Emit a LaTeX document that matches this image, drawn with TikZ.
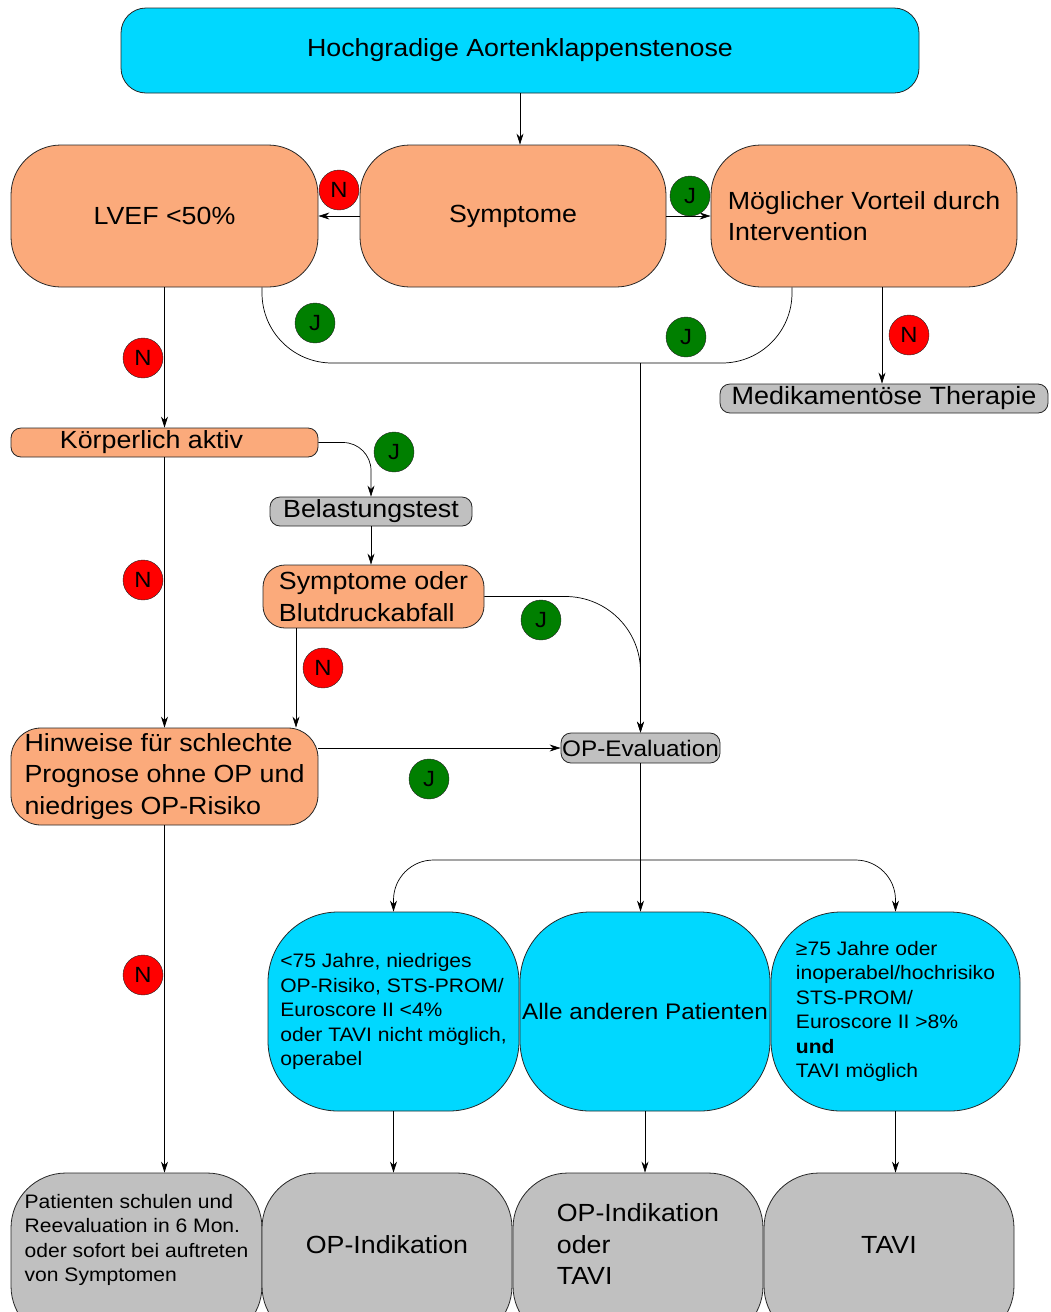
\documentclass[tikz,border=0pt]{standalone}
\usepackage{fontspec}
\setmainfont{Liberation Sans}[FakeStretch=1.08]
\usetikzlibrary{arrows.meta,positioning}

\definecolor{aocyan}{HTML}{00D8FF}
\definecolor{aoorange}{HTML}{FBAA7B}
\definecolor{aogray}{HTML}{C0C0C0}
\definecolor{aogreen}{HTML}{007F00}
\definecolor{aored}{HTML}{FF0000}

\tikzset{
	block/.style={draw=black!85,line width=0.8pt,inner sep=0pt,align=left},
	bigtext/.style={font=\fontsize{24.8}{31.5}\selectfont},
	smalltext/.style={font=\fontsize{19.5}{24.5}\selectfont},
	arr/.style={line width=0.7pt,-{Stealth[length=11pt,width=7pt]}},
	nomark/.style={circle,draw=black!85,fill=aored,minimum size=40pt,inner sep=0pt,font=\fontsize{22}{22}\selectfont},
	yesmark/.style={nomark,fill=aogreen},
}
% lift text in the cut-off boxes
\newcommand{\liftup}[2]{\raisebox{0pt}[\height][\dimexpr\depth+#1\relax]{#2}}

\begin{document}
\begin{tikzpicture}[x=1pt,y=-1pt]
\path[use as bounding box,clip] (0,0) rectangle (1050,1312);

%top row
\node[block,bigtext,fill=aocyan,rounded corners=25,minimum width=798,minimum height=85] (aks) at (520,50.5) {Hochgradige Aortenklappenstenose};
\node[block,bigtext,fill=aoorange,rounded corners=50,minimum width=307,minimum height=142] (lvef) at (164.5,216) {LVEF <50\%};
\node[block,bigtext,fill=aoorange,rounded corners=50,minimum width=306,minimum height=142] (symp) at (513,216) {Symptome};
\node[block,bigtext,fill=aoorange,rounded corners=50,minimum width=306,minimum height=142] (vorteil) at (864,216) {Möglicher Vorteil durch\\Intervention};
\node[block,font=\fontsize{25}{25}\selectfont,fill=aogray,rounded corners=10,minimum width=328,minimum height=29] (medi) at (884,398.5) {Medikamentöse Therapie};

%left branch
\node[block,bigtext,fill=aoorange,rounded corners=10,minimum width=307,minimum height=29] (aktiv) at (164.5,442.5) {Körperlich aktiv\hspace{26pt}};
\node[block,bigtext,fill=aogray,rounded corners=10,minimum width=202,minimum height=29] (belast) at (371,511.5) {Belastungstest};
\node[block,bigtext,fill=aoorange,rounded corners=22,minimum width=221,minimum height=63] (abfall) at (373.5,596.5) {Symptome oder\\Blutdruckabfall};
\node[block,bigtext,fill=aoorange,rounded corners=30,minimum width=307,minimum height=97] (prog) at (164.5,776.5) {Hinweise für schlechte\\Prognose ohne OP und\\niedriges OP-Risiko};
\node[block,font=\fontsize{22.5}{22.5}\selectfont,fill=aogray,rounded corners=10,minimum width=159,minimum height=30] (opeval) at (640.5,748) {OP-Evaluation};

%patient groups
\node[block,smalltext,fill=aocyan,rounded corners=70,minimum width=251,minimum height=199] (jung) at (393.5,1011.5) {<75 Jahre, niedriges\\OP-Risiko, STS-PROM/\\Euroscore II <4\%\\oder TAVI nicht möglich,\\operabel};
\node[block,font=\fontsize{22.5}{22.5}\selectfont,fill=aocyan,rounded corners=70,minimum width=250,minimum height=199] (andere) at (645,1011.5) {Alle anderen Patienten};
\node[block,smalltext,fill=aocyan,rounded corners=70,minimum width=249,minimum height=199] (alt) at (895.5,1011.5) {≥75 Jahre oder\\inoperabel/hochrisiko\\STS-PROM/\\Euroscore II >8\%\\\textbf{und}\\TAVI möglich};

%results (cut by the page)
\node[block,smalltext,fill=aogray,rounded corners=55,minimum width=251,minimum height=168] (schulen) at (136.5,1257) {\liftup{34pt}{\begin{tabular}{@{}l@{}}Patienten schulen und\\Reevaluation in 6 Mon.\\oder sofort bei auftreten\\von Symptomen\end{tabular}}};
\node[block,bigtext,fill=aogray,rounded corners=55,minimum width=250,minimum height=168] (opind) at (387,1257) {\liftup{24pt}{OP-Indikation}};
\node[block,bigtext,fill=aogray,rounded corners=55,minimum width=250,minimum height=168] (oder) at (638,1257) {\liftup{20pt}{\begin{tabular}{@{}l@{}}OP-Indikation\\oder\\TAVI\end{tabular}}};
\node[block,bigtext,fill=aogray,rounded corners=55,minimum width=250,minimum height=168] (tavi) at (889,1257) {\liftup{24pt}{TAVI}};

\coordinate (join) at (640.5,363);
\coordinate (split) at (640.5,860);

%connectors
\draw[arr] (aks) -- (aks |- symp.north);
\draw[arr] (symp) -- (lvef);
\draw[arr] (symp) -- (vorteil);
\draw[arr] (lvef) -- (aktiv);
\draw[line width=0.7pt,rounded corners=70] ([xshift=97.5]lvef.south) |- (join) -| ([xshift=-72]vorteil.south);
\draw[arr] (join) -- (opeval);
\draw[arr] ([xshift=18]vorteil.south) -- ([xshift=-2]medi.north);
\draw[arr,rounded corners=28] (aktiv.east) -| (belast.north);
\draw[arr] (belast) -- (belast |- abfall.north);
\draw[arr,rounded corners=75] (abfall.east) -| (opeval.north);
\draw[arr] ([xshift=-77.5]abfall.south) -- ([xshift=-77.5]abfall.south |- prog.north);
\draw[arr] (aktiv) -- (prog);
\draw[arr] (prog.east |- opeval.west) -- (opeval.west);
\draw[line width=0.7pt] (opeval) -- (split);
\draw[arr] (split) -- (split |- andere.north);
\draw[arr,rounded corners=40] (split) -| (jung.north);
\draw[arr,rounded corners=40] (split) -| (alt.north);
\draw[arr] (prog) -- (prog |- schulen.north);
\draw[arr] (jung) -- (jung |- opind.north);
\draw[arr] (andere) -- (andere |- oder.north);
\draw[arr] (alt) -- (alt |- tavi.north);

%yes / no marks
\foreach \p[count=\i] in {(339,190),(143,358),(909,335),(143,580),(323,668),(143,975)}{
	\node[nomark] (n\i) at \p {N};
}
\foreach \p[count=\i] in {(690,196),(315,323),(686,337),(394,452),(541,620),(429,779)}{
	\node[yesmark] (j\i) at \p {J};
}
\end{tikzpicture}
\end{document}
